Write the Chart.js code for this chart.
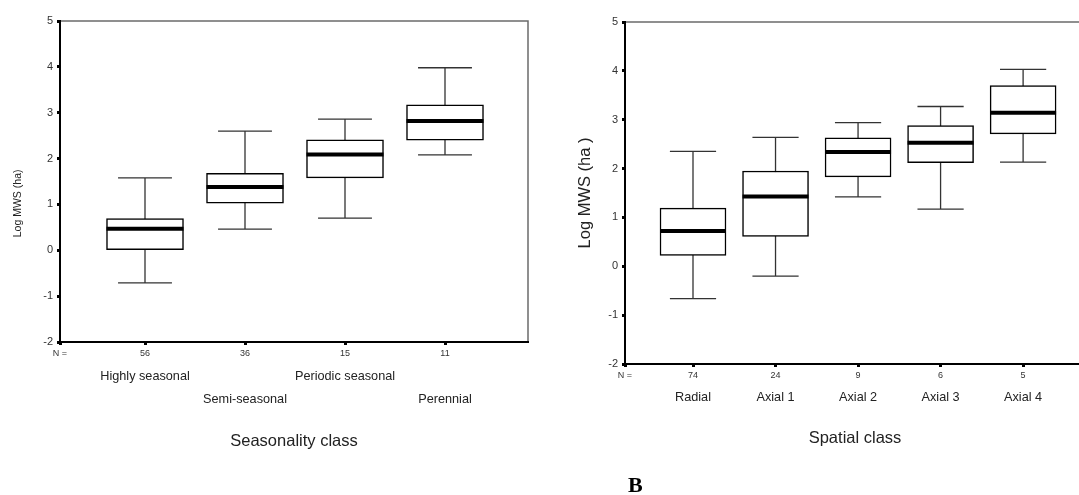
<!DOCTYPE html>
<html>
<head>
<meta charset="utf-8">
<script src="https://cdn.jsdelivr.net/npm/chart.js@4.4.0/dist/chart.umd.min.js"></script>
<style>
  html, body { margin:0; padding:0; background:#fff; width:1079px; height:495px; overflow:hidden; }
  #left { position:absolute; left:0; top:0; width:540px; height:495px; }
  #right { position:absolute; left:540px; top:0; width:545px; height:495px; }
  #panel { position:absolute; left:628px; top:474px; font:bold 22px 'Liberation Serif', serif; line-height:22px; color:#000; }
</style>
</head>
<body>
<div id="left"><canvas id="seasonChart"></canvas></div>
<div id="right"><canvas id="spatialChart"></canvas></div>
<div id="panel">B</div>
<script>
// left panel: seasonality class
const seasonLabels = [['Highly seasonal'], ['', 'Semi-seasonal'], ['Periodic seasonal'], ['', 'Perennial']];
const seasonN = [56, 36, 15, 11];
const seasonLow = [-0.71, 0.46, 0.70, 2.08];
const seasonQ1 = [0.00, 1.03, 1.58, 2.40];
const seasonMed = [0.47, 1.38, 2.09, 2.82];
const seasonQ3 = [0.69, 1.68, 2.41, 3.17];
const seasonHigh = [1.58, 2.60, 2.86, 3.98];

// right panel: spatial class
const spatialLabels = ['Radial', 'Axial 1', 'Axial 2', 'Axial 3', 'Axial 4'];
const spatialN = [74, 24, 9, 6, 5];
const spatialLow = [-0.66, -0.20, 1.42, 1.17, 2.13];
const spatialQ1 = [0.22, 0.61, 1.83, 2.12, 2.71];
const spatialMed = [0.72, 1.43, 2.34, 2.53, 3.14];
const spatialQ3 = [1.19, 1.95, 2.63, 2.88, 3.70];
const spatialHigh = [2.35, 2.64, 2.94, 3.27, 4.03];

const yMin = -2, yMax = 5;
const FONT = "'Liberation Sans', Arial, sans-serif";

// whiskers, caps, medians and the grey frame
const boxPlugin = {
  id: 'boxWhisk',
  beforeDraw(chart) {
    const a = chart.chartArea, ctx = chart.ctx;
    ctx.save();
    ctx.strokeStyle = '#6b6b6b';
    ctx.lineWidth = 1.5;
    ctx.beginPath();
    ctx.moveTo(a.left, a.top);
    ctx.lineTo(a.right, a.top);
    ctx.lineTo(a.right, a.bottom);
    ctx.stroke();
    ctx.restore();
  },
  beforeDatasetsDraw(chart, args, opts) {
    const ctx = chart.ctx, xs = chart.scales.x, ys = chart.scales.y;
    const bars = chart.getDatasetMeta(0).data;
    ctx.save();
    ctx.strokeStyle = '#333';
    ctx.lineWidth = 1.3;
    opts.low.forEach((lo, i) => {
      const x = xs.getPixelForValue(i + 1);
      const half = bars[i].width * 0.35;
      const yl = ys.getPixelForValue(lo), yh = ys.getPixelForValue(opts.high[i]);
      ctx.beginPath();
      ctx.moveTo(x, yl); ctx.lineTo(x, yh);
      ctx.moveTo(x - half, yl); ctx.lineTo(x + half, yl);
      ctx.moveTo(x - half, yh); ctx.lineTo(x + half, yh);
      ctx.stroke();
    });
    ctx.restore();
  },
  afterDatasetsDraw(chart, args, opts) {
    const ctx = chart.ctx, xs = chart.scales.x, ys = chart.scales.y;
    const bars = chart.getDatasetMeta(0).data;
    ctx.save();
    ctx.strokeStyle = '#000';
    ctx.lineWidth = 4;
    opts.med.forEach((m, i) => {
      const x = xs.getPixelForValue(i + 1);
      const half = bars[i].width / 2;
      const y = ys.getPixelForValue(m);
      ctx.beginPath();
      ctx.moveTo(x - half, y); ctx.lineTo(x + half, y);
      ctx.stroke();
    });
    ctx.restore();
  }
};

function makeChart(id, cfg) {
  const tickVals = [cfg.xMin].concat(cfg.n.map((v, i) => i + 1));
  return new Chart(document.getElementById(id), {
    type: 'bar',
    data: {
      datasets: [{
        data: cfg.q1.map((v, i) => ({x: i + 1, y: [v, cfg.q3[i]]})),
        backgroundColor: '#fff',
        borderColor: '#000',
        borderWidth: 1.5,
        borderSkipped: false,
        barThickness: cfg.boxW
      }]
    },
    plugins: [boxPlugin],
    options: {
      responsive: true,
      maintainAspectRatio: false,
      animation: false,
      events: [],
      layout: { padding: cfg.pad },
      plugins: {
        legend: { display: false },
        tooltip: { enabled: false },
        boxWhisk: { low: cfg.low, high: cfg.high, med: cfg.med }
      },
      scales: {
        x: {
          type: 'linear', position: 'bottom', weight: 0, offset: false,
          min: cfg.xMin, max: cfg.xMax,
          afterBuildTicks: s => { s.ticks = tickVals.map(v => ({value: v})); },
          afterFit: s => { s.height = cfg.nH; },
          ticks: {
            font: { family: FONT, size: 9 }, color: '#333', padding: cfg.nPad,
            maxRotation: 0, autoSkip: false,
            callback: (v, i) => i === 0 ? 'N =' : String(cfg.n[i - 1])
          },
          grid: { offset: false, drawOnChartArea: false, tickLength: 3, tickWidth: 3, tickColor: '#000' },
          border: { color: '#000', width: 2 }
        },
        x2: {
          type: 'linear', position: 'bottom', weight: 1, offset: false,
          min: cfg.xMin, max: cfg.xMax,
          afterBuildTicks: s => { s.ticks = cfg.n.map((v, i) => ({value: i + 1})); },
          afterFit: s => { s.height = cfg.catH; },
          ticks: {
            font: { family: FONT, size: 12.7, lineHeight: cfg.catLine }, color: '#222',
            padding: cfg.catPad, maxRotation: 0, autoSkip: false,
            callback: (v, i) => cfg.labels[i]
          },
          grid: { display: false, offset: false },
          border: { display: false },
          title: {
            display: true, text: cfg.xTitle, color: '#222',
            font: { family: FONT, size: 16.5 }, padding: { top: 0, bottom: cfg.xTitlePad }
          }
        },
        y: {
          min: yMin, max: yMax,
          afterFit: s => { s.width = cfg.yW; },
          ticks: { stepSize: 1, font: { family: FONT, size: 11 }, color: '#333', padding: 4 },
          grid: { drawOnChartArea: false, tickLength: 3, tickWidth: 3, tickColor: '#000' },
          border: { color: '#000', width: 2 },
          title: {
            display: true, text: cfg.yTitle, color: '#222',
            font: { family: FONT, size: cfg.yTitleSize }, padding: { top: cfg.yTitlePad, bottom: 0 }
          }
        }
      }
    }
  });
}

makeChart('seasonChart', {
  labels: seasonLabels, n: seasonN, low: seasonLow, q1: seasonQ1, med: seasonMed, q3: seasonQ3, high: seasonHigh,
  xMin: 0.15, xMax: 4.83, boxW: 77,
  pad: { top: 21, right: 12, left: 0, bottom: 0 },
  nH: 22, nPad: 3, catH: 131, catPad: -7, catLine: 1.79,
  xTitle: 'Seasonality class', xTitlePad: 44,
  // trailing spaces push the visible title down towards the 1 tick, as in the original
  yW: 60, yTitle: 'Log MWS (ha)' + ' '.repeat(15), yTitleSize: 10.5, yTitlePad: 12
});

makeChart('spatialChart', {
  labels: spatialLabels, n: spatialN, low: spatialLow, q1: spatialQ1, med: spatialMed, q3: spatialQ3, high: spatialHigh,
  xMin: 0.176, xMax: 5.75, boxW: 66,
  pad: { top: 22, right: 0, left: 0, bottom: 0 },
  nH: 24, nPad: 3.5, catH: 107, catPad: -6, catLine: 1.2,
  xTitle: 'Spatial class', xTitlePad: 47,
  yW: 85, yTitle: 'Log MWS (ha )', yTitleSize: 16.5, yTitlePad: 36
});
</script>
</body>
</html>
